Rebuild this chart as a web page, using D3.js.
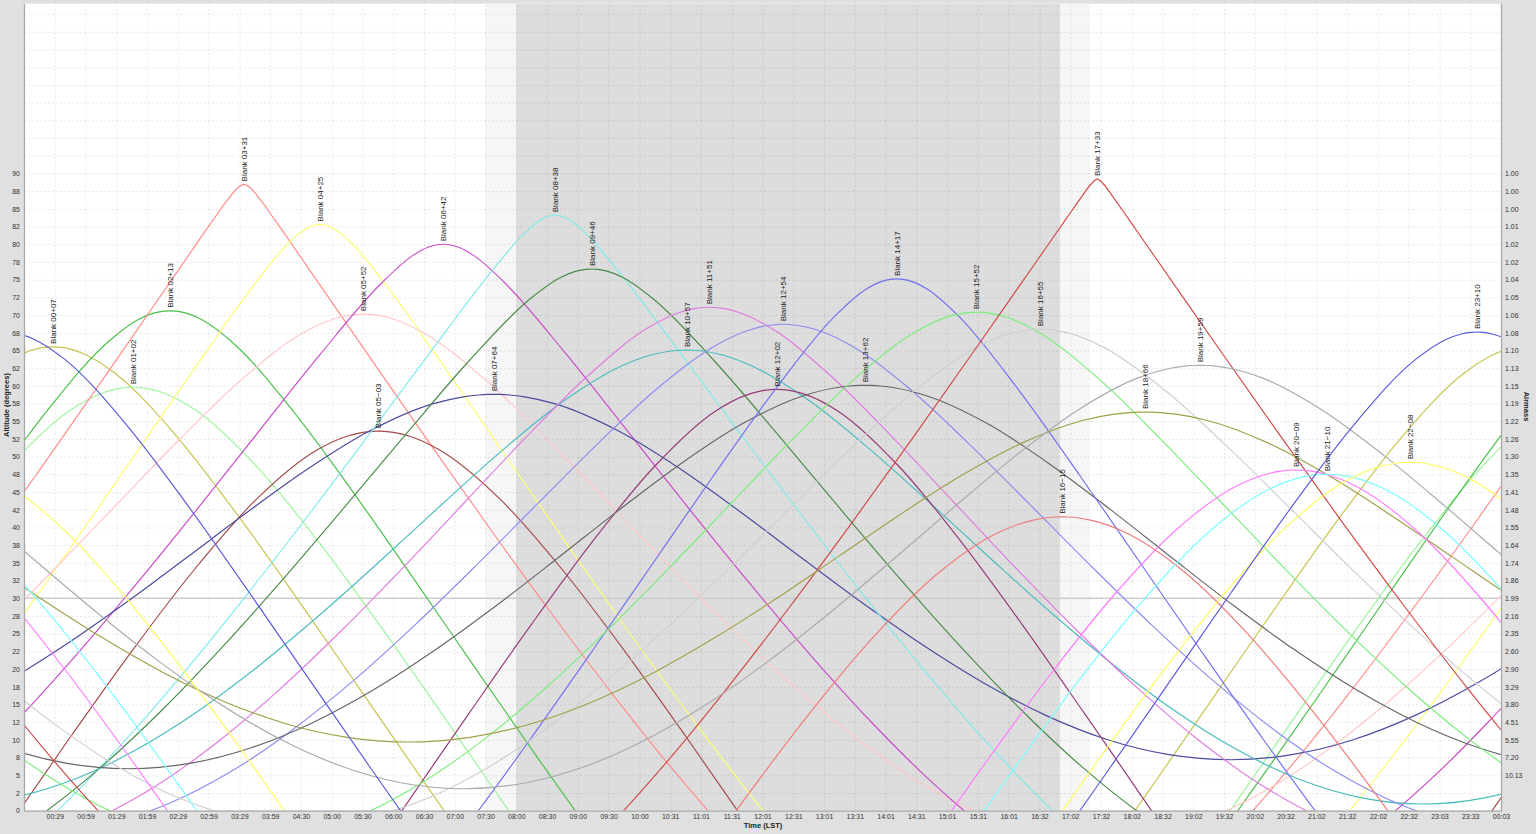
<!DOCTYPE html>
<html><head><meta charset="utf-8">
<script src="https://cdn.jsdelivr.net/npm/d3@7"></script>
<style>
html,body{margin:0;padding:0;background:#e0e0e0;}
svg{display:block;font-family:"Liberation Sans",Arial,sans-serif;}
</style></head><body>
<svg id="chart" width="1536" height="834"></svg>
<script>
// ---------------- data ----------------
const objectNames = ["Blank 00+07","Blank 01+02","Blank 02+13","Blank 03+31","Blank 04+25","Blank 05+52","Blank 05\u221203",
  "Blank 06+42","Blank 07+64","Blank 08+38","Blank 09+46","Blank 10+57","Blank 11+51","Blank 12+02","Blank 12+54",
  "Blank 13+62","Blank 14+17","Blank 15+52","Blank 16+55","Blank 16\u221215","Blank 17+33","Blank 18+66","Blank 19+59",
  "Blank 20\u221209","Blank 21\u221210","Blank 22\u221208","Blank 23+10"];
// LST (hours) of culmination, read from the peak positions
const culminationLST = [0.461,1.764,2.367,3.573,4.811,5.517,5.761,6.820,7.646,8.640,9.238,10.786,11.154,12.253,12.360,
  13.691,14.208,15.511,16.543,16.901,17.476,18.254,19.150,20.714,21.219,22.571,23.658];
const objectColors = ["#c8c24e","#9cf59c","#48c048","#ff8a8a","#ffff70","#ffc8c8","#a34848","#c84ac8","#4a4aa0",
  "#80eaea","#4a8a4a","#48bcbc","#e07ae0","#943a78","#8c8cf0","#666666","#7070ee","#7aee7a","#d0d0d0","#f07a7a",
  "#d04848","#a0a048","#aaaaaa","#ff7aff","#7affff","#ffff58","#5858dc"];
// hour angle offsets (hours from culmination) at which altitudes are given (curves are symmetric)
const hourAngles = [0,0.1,0.25,0.5,1,2,3,4,5,6,7,8,9,10,11,12];
// altitude (degrees) of each object at the hour angles above
const altitudeProfiles = [
  [65.50,65.46,65.25,64.54,61.85,53.02,41.84,29.68,17.17,4.62,-7.71,-19.53,-30.40,-39.63,-46.11,-48.50],
  [59.80,59.77,59.60,58.99,56.69,48.77,38.24,26.45,14.09,1.52,-10.96,-23.09,-34.45,-44.34,-51.50,-54.20],
  [70.60,70.55,70.30,69.43,66.27,56.51,44.79,32.39,19.82,7.36,-4.76,-16.23,-26.64,-35.30,-41.25,-43.40],
  [88.45,87.98,86.47,83.47,77.23,64.66,52.19,39.93,27.99,16.51,5.68,-4.22,-12.81,-19.60,-24.01,-25.55],
  [82.80,82.68,82.09,80.28,75.10,62.99,50.44,37.92,25.62,13.71,2.38,-8.08,-17.27,-24.64,-29.49,-31.20],
  [70.13,70.10,69.95,69.41,67.40,60.76,52.39,43.42,34.42,25.74,17.65,10.44,4.38,-0.24,-3.14,-4.13],
  [53.60,53.57,53.43,52.91,50.93,43.85,34.03,22.72,10.62,-1.85,-14.42,-26.80,-38.60,-49.20,-57.20,-60.40],
  [80.00,79.93,79.57,78.39,74.56,64.51,53.63,42.70,32.02,21.80,12.28,3.71,-3.57,-9.19,-12.77,-14.00],
  [58.80,58.79,58.71,58.45,57.45,53.75,48.46,42.29,35.79,29.36,23.32,17.93,13.43,10.03,7.92,7.20],
  [84.10,83.97,83.36,81.53,76.52,65.13,53.47,41.94,30.73,20.00,9.97,0.90,-6.86,-12.90,-16.76,-18.10],
  [76.50,76.45,76.20,75.34,72.31,63.51,53.45,43.14,32.99,23.27,14.22,6.11,-0.75,-6.02,-9.36,-10.50],
  [65.05,65.03,64.92,64.53,63.06,57.89,50.92,43.17,35.23,27.49,20.27,13.83,8.45,4.37,1.82,0.95],
  [71.10,71.07,70.90,70.33,68.19,61.25,52.61,43.42,34.23,25.38,17.14,9.78,3.59,-1.12,-4.09,-5.10],
  [59.50,59.47,59.30,58.69,56.42,48.54,38.04,26.28,13.92,1.36,-11.13,-23.28,-34.66,-44.58,-51.78,-54.50],
  [68.70,68.67,68.53,68.04,66.21,60.01,52.03,43.39,34.68,26.25,18.40,11.40,5.52,1.06,-1.74,-2.70],
  [60.07,60.06,59.98,59.70,58.61,54.64,49.01,42.52,35.72,29.01,22.72,17.11,12.43,8.89,6.68,5.93],
  [75.10,75.04,74.72,73.65,69.92,59.27,47.13,34.60,22.06,9.74,-2.13,-13.26,-23.23,-31.40,-36.90,-38.90],
  [70.40,70.37,70.21,69.67,67.62,60.91,52.45,43.42,34.37,25.64,17.51,10.25,4.16,-0.49,-3.40,-4.40],
  [68.00,67.97,67.84,67.37,65.61,59.62,51.84,43.37,34.79,26.50,18.76,11.87,6.08,1.69,-1.06,-2.00],
  [41.50,41.48,41.37,40.97,39.43,33.67,25.21,14.98,3.65,-8.37,-20.78,-33.30,-45.80,-57.70,-67.80,-72.50],
  [89.20,88.51,86.77,83.68,77.46,65.03,52.73,40.65,28.91,17.64,7.04,-2.61,-10.94,-17.49,-21.73,-23.20],
  [56.30,56.29,56.23,56.01,55.15,51.95,47.29,41.77,35.88,30.01,24.48,19.53,15.40,12.29,10.36,9.70],
  [62.90,62.88,62.79,62.45,61.16,56.53,50.15,42.94,35.48,28.17,21.34,15.25,10.17,6.32,3.92,3.10],
  [48.10,48.08,47.95,47.49,45.73,39.29,30.11,19.27,7.48,-4.83,-17.38,-29.90,-42.10,-53.30,-62.20,-65.90],
  [47.50,47.48,47.35,46.90,45.16,38.79,29.67,18.89,7.13,-5.16,-17.70,-30.20,-42.40,-53.70,-62.70,-66.50],
  [49.20,49.18,49.04,48.58,46.78,40.22,30.91,19.97,8.11,-4.24,-16.80,-29.30,-41.40,-52.50,-61.20,-64.80],
  [67.60,67.56,67.33,66.56,63.70,54.50,43.09,30.82,18.27,5.75,-6.50,-18.18,-28.86,-37.86,-44.11,-46.40]
];
const timeTickLabels = ["00:29","00:59","01:29","01:59","02:29","02:59","03:29","03:59","04:30","05:00","05:30","06:00",
  "06:30","07:00","07:30","08:00","08:30","09:00","09:30","10:00","10:31","11:01","11:31","12:01","12:31","13:01",
  "13:31","14:01","14:31","15:01","15:31","16:01","16:32","17:02","17:32","18:02","18:32","19:02","19:32","20:02",
  "20:32","21:02","21:32","22:02","22:32","23:03","23:33","00:03"];
const altitudeTickLabels = ["0","2","5","8","10","12","15","18","20","22","25","28","30","32","35","38","40","42","45",
  "48","50","52","55","58","60","62","65","68","70","72","75","78","80","82","85","88","90"];
const airmassTickLabels = ["","","10.13","7.20","5.55","4.51","3.80","3.29","2.90","2.60","2.35","2.16","1.99","1.86",
  "1.74","1.64","1.55","1.48","1.41","1.35","1.30","1.26","1.22","1.19","1.15","1.13","1.10","1.08","1.06","1.05",
  "1.04","1.02","1.02","1.01","1.00","1.00","1.00"];
const twilightLST = [7.509, 17.358];
const nightLST = [8.010, 16.869];
const lstStart = -0.0117, lstSpan = 24.0657;   // visible LST window
const altitudeMax = 114, altitudeStep = 2.5, airmassLineAlt = 30;

// ---------------- layout ----------------
const L = 24, R = 1501, T = 3.5, B = 810.7;
const svg = d3.select("#chart");
const x = d3.scaleLinear().domain([lstStart, lstStart + lstSpan]).range([L, R]);
const xTick = d3.scaleLinear().domain([0, timeTickLabels.length]).range([L, R]);
const y = d3.scaleLinear().domain([0, altitudeMax]).range([B, T]);
const yTicks = d3.range(0, altitudeMax - 0.01, altitudeStep);

svg.append("rect").attr("width",1536).attr("height",834).attr("fill","#e0e0e0");
svg.append("defs").append("clipPath").attr("id","plotclip")
  .append("rect").attr("x",L).attr("y",T).attr("width",R-L).attr("height",B-T);
const plot = svg.append("g").attr("clip-path","url(#plotclip)");
plot.append("rect").attr("x",L).attr("y",T).attr("width",R-L).attr("height",B-T).attr("fill","#ffffff");
// twilight and night bands
plot.append("rect").attr("x",x(twilightLST[0])).attr("y",T).attr("width",x(twilightLST[1])-x(twilightLST[0]))
  .attr("height",B-T).attr("fill","#f6f6f6");
plot.append("rect").attr("x",x(nightLST[0])).attr("y",T).attr("width",x(nightLST[1])-x(nightLST[0]))
  .attr("height",B-T).attr("fill","#dddddd");

// grid
const gx = plot.append("g").attr("transform",`translate(0,${B})`)
  .call(d3.axisBottom(xTick).tickValues(d3.range(1, timeTickLabels.length+1)).tickSize(-(B-T)).tickFormat(""));
const gy = plot.append("g").attr("transform",`translate(${L},0)`)
  .call(d3.axisLeft(y).tickValues(yTicks.slice(1)).tickSize(-(R-L)).tickFormat(""));
[gx,gy].forEach(g=>{
  g.select(".domain").remove();
  g.selectAll(".tick line").attr("stroke","rgba(0,0,0,0.09)").attr("stroke-dasharray","2,2").attr("stroke-width",1);
});
// airmass 2 reference line
plot.append("line").attr("x1",L).attr("x2",R).attr("y1",y(airmassLineAlt)).attr("y2",y(airmassLineAlt))
  .attr("stroke","#cdcdcd").attr("stroke-width",1.6);

// curves
const line = d3.line().x(d=>x(d[0])).y(d=>y(d[1])).curve(d3.curveMonotoneX);
culminationLST.forEach((ra,i)=>{
  const prof = altitudeProfiles[i];
  let pts = [];
  [-1,0,1].forEach(k=>{
    for (let j = hourAngles.length-1; j >= 1; j--) pts.push([ra - hourAngles[j] + 24*k, prof[j]]);
    pts.push([ra + 24*k, prof[0]]);
    for (let j = 1; j < hourAngles.length; j++) pts.push([ra + hourAngles[j] + 24*k, prof[j]]);
  });
  pts.sort((a,b)=>a[0]-b[0]);
  pts = pts.filter((p,idx)=> idx===0 || Math.abs(p[0]-pts[idx-1][0])>1e-9);
  pts = pts.filter(p=> p[0] > lstStart-3 && p[0] < lstStart+lstSpan+3);
  plot.append("path").attr("d",line(pts)).attr("fill","none")
    .attr("stroke",objectColors[i]).attr("stroke-width",1.15);
});
// labels at culmination
const labels = svg.append("g").attr("font-size","8px").attr("fill","#1a1a1a");
culminationLST.forEach((ra,i)=>{
  labels.append("text")
    .attr("transform",`translate(${x(ra)},${y(altitudeProfiles[i][0])-3}) rotate(-90)`)
    .attr("dy","0.35em").text(objectNames[i]);
});

// axes
const styleAxis = g=>{
  g.attr("font-family",null).attr("font-size",null);
  g.selectAll("text").attr("font-size","7px").attr("fill","#333");
  g.select(".domain").attr("stroke","#a8a8a8").attr("stroke-width",1.3);
};
svg.append("g").attr("transform",`translate(0,${B})`)
  .call(d3.axisBottom(xTick).tickValues(d3.range(1, timeTickLabels.length+1))
    .tickFormat(i=>timeTickLabels[i-1]).tickSize(0).tickSizeOuter(0).tickPadding(3.5))
  .call(styleAxis);
svg.append("g").attr("transform",`translate(${L},0)`)
  .call(d3.axisLeft(y).tickValues(yTicks).tickFormat((d,i)=>altitudeTickLabels[i] || "")
    .tickSize(0).tickSizeOuter(0).tickPadding(4))
  .call(styleAxis);
svg.append("g").attr("transform",`translate(${R},0)`)
  .call(d3.axisRight(y).tickValues(yTicks).tickFormat((d,i)=>airmassTickLabels[i] || "")
    .tickSize(0).tickSizeOuter(0).tickPadding(4))
  .call(styleAxis);

// axis titles
svg.append("text").attr("transform","translate(6,405) rotate(-90)").attr("text-anchor","middle")
  .attr("dy","0.35em").attr("font-size","7.5px").attr("font-weight","bold").attr("fill","#222").text("Altitude (degrees)");
svg.append("text").attr("x",763).attr("y",828).attr("text-anchor","middle")
  .attr("font-size","7.5px").attr("font-weight","bold").attr("fill","#222").text("Time (LST)");
svg.append("text").attr("transform","translate(1526.5,406.5) rotate(90)").attr("text-anchor","middle")
  .attr("dy","0.35em").attr("font-size","7.5px").attr("font-weight","bold").attr("fill","#222").text("Airmass");
</script>
</body></html>
